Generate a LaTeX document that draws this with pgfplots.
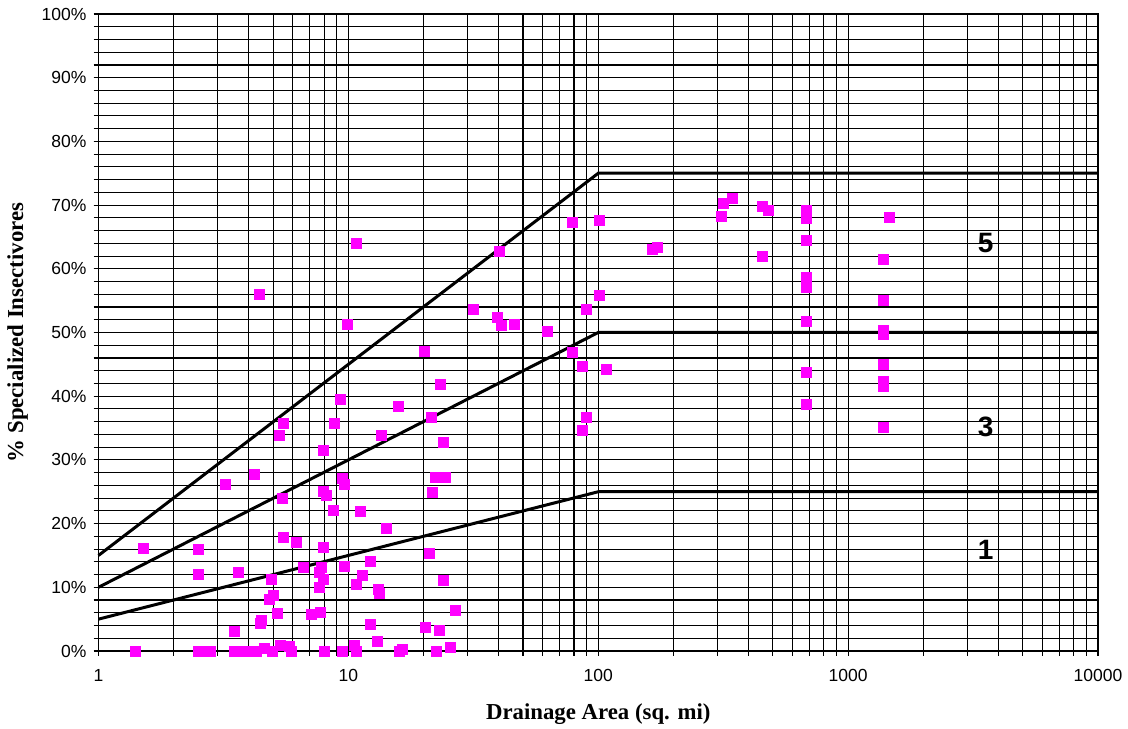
\documentclass[border=0pt]{standalone}
\usepackage{fontspec}
\setmainfont{Liberation Sans}
\newfontfamily\timesfont{Liberation Serif}
\usepackage{pgfplots}
\pgfplotsset{compat=1.18}
\definecolor{ptmag}{RGB}{255,0,255}

\begin{document}
\begin{tikzpicture}
\begin{axis}[
  scale only axis,
  width=499.75pt, height=318.5pt,
  xmode=log, xmin=1, xmax=10000,
  ymin=0, ymax=100,
  ytick={0,10,...,100},
  minor ytick={2,4,...,98},
  xtick={1,10,100,1000,10000},
  xticklabels={1,10,100,1000,10000},
  minor xtick={2,3,4,5,6,7,8,9,20,30,40,50,60,70,80,90,200,300,400,500,600,700,800,900,2000,3000,4000,5000,6000,7000,8000,9000},
  grid=both,
  major grid style={black, line width=0.55pt},
  minor grid style={black, line width=0.55pt},
  axis line style={black, line width=0.6pt},
  tick align=outside,
  major tick length=2.5pt,
  minor tick length=2.5pt,
  tick style={black, line width=0.55pt},
  xtick pos=bottom, ytick pos=left,
  /pgf/number format/assume math mode=true,
  yticklabel={\pgfmathprintnumber{\tick}\%},
  ticklabel style={font=\fontsize{8.75}{10}\selectfont},
  xticklabel style={yshift=-3pt},
  xlabel={\timesfont\bfseries Drainage Area (sq. mi)},
  ylabel={\timesfont\bfseries \% Specialized Insectivores},
  label style={font=\fontsize{11.4}{13}\selectfont},
  xlabel style={yshift=-4pt},
  ylabel style={yshift=0pt},
  clip=false,
]
% class boundaries
\addplot[black, line width=1.5pt] coordinates {(1,15) (100,75) (10000,75)};
\addplot[black, line width=1.5pt] coordinates {(1,10) (100,50) (10000,50)};
\addplot[black, line width=1.5pt] coordinates {(1,5) (100,25) (10000,25)};

% sites
\addplot[only marks, mark=square*, mark size=2.5pt, color=ptmag, mark options={fill=ptmag, draw=ptmag}] table {
x y
1.40 0
2.52 0
2.63 0
2.80 0
3.50 0
3.77 0
4.00 0
4.27 0
4.62 0.4
4.97 0
5.36 0.8
5.80 0.7
5.93 0
8.05 0
9.44 0
10.6 0.9
10.8 0
16.0 0
16.4 0.3
22.6 0
1.51 16.1
2.51 16.0
2.51 12.1
3.22 26.1
3.51 3.0
3.62 12.4
4.41 56.0
4.20 27.8
4.44 4.3
4.50 4.8
4.81 8.1
4.93 11.3
4.99 8.8
5.22 5.9
5.32 33.9
5.42 24.0
5.52 35.8
5.52 17.8
6.22 17.1
6.62 13.1
7.13 5.8
7.70 6.0
7.69 10.0
7.63 12.4
7.80 13.2
7.93 11.3
7.93 16.2
7.93 25.0
8.13 24.4
7.93 31.5
8.75 22.0
8.83 35.7
9.31 39.5
9.44 27.1
9.63 26.2
9.60 13.3
9.89 51.3
10.72 64.0
10.75 10.4
11.22 21.9
11.4 11.9
12.2 4.2
12.3 14.0
13.1 1.5
13.24 9.6
13.28 9.1
13.5 33.8
14.2 19.2
15.9 38.4
20.1 47.1
20.4 3.7
21.05 15.3
21.5 36.6
21.7 24.9
22.4 27.3
23.1 3.3
23.4 41.9
23.9 32.8
23.9 11.1
24.4 27.3
25.7 0.6
26.9 6.3
31.6 53.6
39.5 52.3
40.1 62.8
41.1 51.1
46.1 51.2
62.4 50.2
78.8 46.9
79.1 67.3
86.7 44.7
86.7 34.7
89.7 53.7
89.9 36.7
100.7 55.8
100.8 67.6
107.9 44.2
164.8 63.0
171.9 63.4
309.8 68.2
317.8 70.2
344 71.0
455 69.8
478 69.1
455 61.9
680 69.2
680 67.9
680 64.4
680 58.6
680 57.1
680 51.7
680 43.8
680 38.7
1466 68.1
1390 61.5
1390 55.1
1390 50.4
1390 49.7
1390 45.0
1390 42.3
1390 41.5
1390 35.1
};

% class numbers
\node[font=\fontsize{14}{16}\selectfont\bfseries] at (axis cs:3548,64.0) {5};
\node[font=\fontsize{14}{16}\selectfont\bfseries] at (axis cs:3548,35.2) {3};
\node[font=\fontsize{14}{16}\selectfont\bfseries] at (axis cs:3548,15.9) {1};

\coordinate (sw) at (rel axis cs:0,0);
\coordinate (ne) at (rel axis cs:1,1);
\end{axis}
\pgfresetboundingbox
\useasboundingbox ([xshift=-49.25pt, yshift=-39pt]sw) rectangle ([xshift=15pt, yshift=7pt]ne);
\end{tikzpicture}
\end{document}
